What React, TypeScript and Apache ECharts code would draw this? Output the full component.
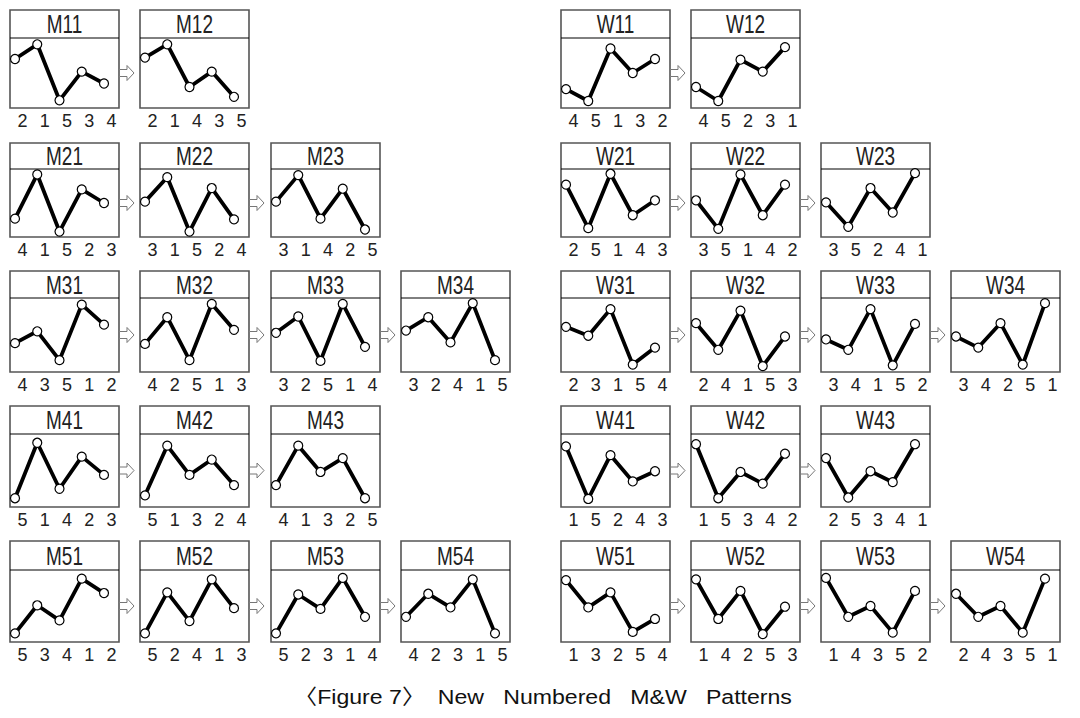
import React, { useEffect, useRef } from "react";
import * as echarts from "echarts";

// ---- data ----
const mNames = ["M11", "M12", "M21", "M22", "M23", "M31", "M32", "M33", "M34", "M41", "M42", "M43", "M51", "M52", "M53", "M54"];
const mRanks = [
  [2, 1, 5, 3, 4], [2, 1, 4, 3, 5],
  [4, 1, 5, 2, 3], [3, 1, 5, 2, 4], [3, 1, 4, 2, 5],
  [4, 3, 5, 1, 2], [4, 2, 5, 1, 3], [3, 2, 5, 1, 4], [3, 2, 4, 1, 5],
  [5, 1, 4, 2, 3], [5, 1, 3, 2, 4], [4, 1, 3, 2, 5],
  [5, 3, 4, 1, 2], [5, 2, 4, 1, 3], [5, 2, 3, 1, 4], [4, 2, 3, 1, 5],
];
const mValues = [
  [70, 91, 11, 52, 35], [72, 91, 30, 52, 16],
  [27, 92, 8, 70, 50], [52, 88, 8, 72, 26], [52, 91, 27, 71, 11],
  [39, 55, 16, 91, 64], [38, 74, 16, 92, 57], [53, 75, 15, 92, 34], [56, 74, 40, 93, 16],
  [12, 88, 25, 69, 44], [16, 84, 44, 65, 30], [30, 84, 48, 67, 12],
  [12, 51, 30, 88, 68], [12, 69, 29, 87, 47], [12, 66, 46, 89, 35], [35, 67, 48, 87, 12],
];
const wNames = ["W11", "W12", "W21", "W22", "W23", "W31", "W32", "W33", "W34", "W41", "W42", "W43", "W51", "W52", "W53", "W54"];
const wRanks = [
  [4, 5, 1, 3, 2], [4, 5, 2, 3, 1],
  [2, 5, 1, 4, 3], [3, 5, 1, 4, 2], [3, 5, 2, 4, 1],
  [2, 3, 1, 5, 4], [2, 4, 1, 5, 3], [3, 4, 1, 5, 2], [3, 4, 2, 5, 1],
  [1, 5, 2, 4, 3], [1, 5, 3, 4, 2], [2, 5, 3, 4, 1],
  [1, 3, 2, 5, 4], [1, 4, 2, 5, 3], [1, 4, 3, 5, 2], [2, 4, 3, 5, 1],
];
const wValues = [
  [27, 10, 85, 50, 70], [30, 10, 69, 52, 87],
  [77, 13, 93, 32, 54], [54, 12, 92, 32, 77], [51, 15, 72, 36, 94],
  [61, 49, 85, 10, 33], [66, 30, 83, 8, 48], [44, 30, 85, 9, 65], [48, 33, 66, 10, 93],
  [83, 11, 71, 35, 49], [86, 12, 48, 32, 73], [67, 13, 49, 34, 86],
  [86, 48, 69, 14, 32], [87, 32, 71, 11, 49], [89, 35, 50, 13, 71], [67, 35, 50, 13, 88],
];
const captionText = "〈Figure 7〉  New   Numbered   M&W   Patterns";

// ---- layout ----
const ROW_TOPS = [10, 143, 271, 406, 541];
const ROW_LINES = [38, 169, 298, 434, 570];
const ROW_BOTTOMS = [108, 237, 372, 507, 642];
const M_COLS = [10, 140, 271, 401];
const W_COLS = [561, 691, 821, 951];
const BOX_W = 109;
const SANS = "'Liberation Sans', Arial, sans-serif";

type Panel = { name: string; ranks: number[]; values: number[]; cols: number[] };

function buildOption() {
  const panels: Panel[] = [];
  mNames.forEach((n, i) => panels.push({ name: n, ranks: mRanks[i], values: mValues[i], cols: M_COLS }));
  wNames.forEach((n, i) => panels.push({ name: n, ranks: wRanks[i], values: wValues[i], cols: W_COLS }));

  const grid: any[] = [];
  const xAxis: any[] = [];
  const yAxis: any[] = [];
  const series: any[] = [];
  const graphic: any[] = [];

  panels.forEach((p, idx) => {
    const r = parseInt(p.name[1], 10) - 1;
    const c = parseInt(p.name[2], 10) - 1;
    const x = p.cols[c];
    const top = ROW_TOPS[r];
    const line = ROW_LINES[r];
    const bottom = ROW_BOTTOMS[r];

    grid.push({ left: x + 5, top: line, width: 89, height: bottom - line, containLabel: false, outerBoundsMode: "none" });
    xAxis.push({
      type: "category",
      gridIndex: idx,
      data: p.ranks.map(String),
      boundaryGap: false,
      axisLine: { show: false },
      axisTick: { show: false },
      splitLine: { show: false },
      axisLabel: {
        interval: 0,
        margin: 4,
        fontSize: 18,
        fontFamily: SANS,
        color: "#222",
        padding: [0, 0, 0, 15],
      },
    });
    yAxis.push({ type: "value", gridIndex: idx, min: 0, max: 100, show: false });
    series.push({
      type: "line",
      xAxisIndex: idx,
      yAxisIndex: idx,
      data: p.values,
      symbol: "circle",
      symbolSize: 9,
      clip: false,
      z: 5,
      lineStyle: { color: "#000", width: 3.8 },
      itemStyle: { color: "#fff", borderColor: "#000", borderWidth: 1.2 },
    });

    // box
    graphic.push({
      type: "rect",
      z: 1,
      shape: { x, y: top, width: BOX_W, height: bottom - top },
      style: { fill: "none", stroke: "#555", lineWidth: 1.6 },
    });
    graphic.push({
      type: "line",
      z: 1,
      shape: { x1: x, y1: line, x2: x + BOX_W, y2: line },
      style: { stroke: "#000", lineWidth: 1 },
    });
    graphic.push({
      type: "text",
      z: 1,
      x: x + BOX_W / 2,
      y: (top + line) / 2 + 1,
      scaleX: 0.76,
      style: {
        text: p.name,
        align: "center",
        verticalAlign: "middle",
        font: `25px ${SANS}`,
        fill: "#222",
      },
    });
    // arrow from previous panel
    if (c > 0) {
      const px = p.cols[c - 1] + BOX_W;
      const cy = (line + bottom) / 2;
      const x0 = px + 0.5;
      const x1 = px + 8;
      const x2 = px + 15;
      graphic.push({
        type: "polygon",
        z: 1,
        shape: {
          points: [
            [x0, cy - 3.5], [x1, cy - 3.5], [x1, cy - 7.5], [x2, cy],
            [x1, cy + 7.5], [x1, cy + 3.5], [x0, cy + 3.5],
          ],
        },
        style: { fill: "#fff", stroke: "#777", lineWidth: 1 },
      });
    }
  });

  graphic.push({
    type: "text",
    z: 1,
    x: 543,
    y: 697,
    scaleX: 1.1,
    style: {
      text: captionText,
      align: "center",
      verticalAlign: "middle",
      font: "21px 'Liberation Sans', 'Noto Sans CJK KR', sans-serif",
      fill: "#111",
    },
  });

  return {
    animation: false,
    backgroundColor: "#fff",
    grid,
    xAxis,
    yAxis,
    series,
    graphic,
  };
}

export default function App() {
  const ref = useRef<HTMLDivElement>(null);
  useEffect(() => {
    document.body.style.margin = "0";
    if (!ref.current) return;
    const chart = echarts.init(ref.current, undefined, { renderer: "svg" });
    chart.setOption(buildOption() as any);
    return () => chart.dispose();
  }, []);
  return <div ref={ref} style={{ width: 1080, height: 718 }} />;
}
